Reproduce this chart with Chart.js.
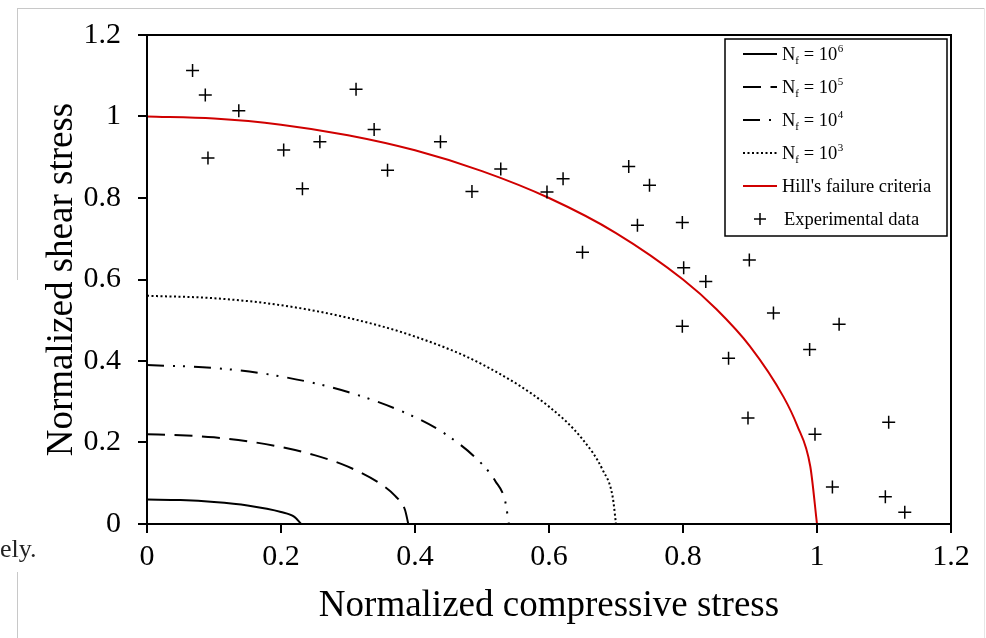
<!DOCTYPE html>
<html>
<head>
<meta charset="utf-8">
<script src="https://cdn.jsdelivr.net/npm/chart.js@4.4.0/dist/chart.umd.min.js"></script>
<style>
  html, body { margin: 0; padding: 0; background: #fff; }
  #wrap { position: relative; width: 986px; height: 638px; overflow: hidden; }
  canvas { position: absolute; left: 0; top: 0; }
  .edge { position: absolute; background: #c8c8c8; }
  #ely { position: absolute; left: 0; top: 536px; font: 26px "Liberation Serif", serif; color: #222; line-height: 26px; }
</style>
</head>
<body>
<div id="wrap">
  <canvas id="chart" width="986" height="638"></canvas>
  <div class="edge" style="left:17px;top:8px;width:968px;height:1px"></div>
  <div class="edge" style="left:17px;top:8px;width:1px;height:272px"></div>
  <div class="edge" style="left:17px;top:572px;width:1px;height:66px"></div>
  <div class="edge" style="left:984px;top:8px;width:1px;height:630px;background:#e6e6e6"></div>
  <div id="ely">ely.</div>
</div>
<script>
// curves
var nf6X = [0, 0.05, 0.1, 0.15, 0.2, 0.22, 0.23];
var nf6Y = [0.06, 0.0586, 0.054, 0.0455, 0.0296, 0.0175, 0];

var nf5X = [0, 0.05, 0.1, 0.15, 0.2, 0.25, 0.3, 0.35, 0.37, 0.385, 0.39];
var nf5Y = [0.22, 0.218, 0.2126, 0.203, 0.189, 0.169, 0.1406, 0.097, 0.0695, 0.035, 0];

var nf4X = [0, 0.1, 0.2, 0.3, 0.4, 0.45, 0.5, 0.52, 0.535, 0.54];
var nf4Y = [0.39, 0.383, 0.362, 0.324, 0.262, 0.2156, 0.147, 0.105, 0.053, 0];

var nf3X = [0, 0.1, 0.2, 0.3, 0.4, 0.5, 0.6, 0.65, 0.68, 0.695, 0.7];
var nf3Y = [0.56, 0.554, 0.537, 0.506, 0.46, 0.392, 0.288, 0.208, 0.133, 0.067, 0];

var hillX = [0, 0.1, 0.2, 0.3, 0.4, 0.5, 0.6, 0.7, 0.8, 0.85, 0.9, 0.95, 0.97, 0.99, 1.0];
var hillY = [1, 0.995, 0.98, 0.954, 0.917, 0.866, 0.8, 0.714, 0.6, 0.527, 0.436, 0.312, 0.243, 0.141, 0];

// experimental points
var expX = [0.068, 0.087, 0.137, 0.091, 0.204, 0.232, 0.258, 0.312, 0.339, 0.359, 0.438, 0.485,
            0.528, 0.597, 0.621, 0.650, 0.719, 0.732, 0.750, 0.799, 0.801, 0.834, 0.799, 0.899,
            0.935, 0.868, 1.033, 0.989, 0.897, 0.997, 1.023, 1.107, 1.102, 1.131];
var expY = [1.113, 1.053, 1.014, 0.898, 0.918, 0.823, 0.938, 1.067, 0.968, 0.868, 0.938, 0.816,
            0.871, 0.815, 0.847, 0.667, 0.877, 0.733, 0.831, 0.740, 0.629, 0.595, 0.485, 0.648,
            0.518, 0.407, 0.490, 0.428, 0.260, 0.220, 0.091, 0.250, 0.067, 0.029];

var axisTicks = [0, 0.2, 0.4, 0.6, 0.8, 1, 1.2];
var axisTickLabels = ['0', '0.2', '0.4', '0.6', '0.8', '1', '1.2'];

function pts(xs, ys) {
	return xs.map(function (x, i) { return { x: x, y: ys[i] }; });
}

function tickLabel(v, i) {
	return axisTickLabels[i];
}

var serif = '"Liberation Serif", "Times New Roman", serif';

function curve(xs, ys, color, dash) {
	return {
		data: pts(xs, ys),
		showLine: true,
		borderColor: color,
		borderWidth: 2,
		borderDash: dash,
		pointRadius: 0,
		cubicInterpolationMode: 'monotone',
		fill: false
	};
}

var dashNf5 = [18, 9.5];
var dashNf4 = [17, 9, 2, 8, 2, 9];
var dashNf3 = [2, 2.5];

var legendRows = [
	{ exp: '6', dash: [], color: '#000' },
	{ exp: '5', dash: dashNf5, color: '#000' },
	{ exp: '4', dash: dashNf4, color: '#000' },
	{ exp: '3', dash: dashNf3, color: '#000' },
	{ text: "Hill's failure criteria", dash: [], color: '#d00000' },
	{ text: 'Experimental data', marker: true }
];

// frame round the plot and the boxed legend
var framePlugin = {
	id: 'frame',
	afterDraw: function (chart) {
		var ctx = chart.ctx, a = chart.chartArea;
		ctx.save();
		ctx.strokeStyle = '#000';
		ctx.lineWidth = 2;
		ctx.strokeRect(a.left, a.top, a.right - a.left, a.bottom - a.top);

		var bx = a.right - 226, by = a.top + 4, bw = 222, bh = 197;
		ctx.fillStyle = '#fff';
		ctx.fillRect(bx, by, bw, bh);
		ctx.lineWidth = 1.5;
		ctx.strokeRect(bx, by, bw, bh);

		var rowH = 33;
		legendRows.forEach(function (r, i) {
			var cy = by + 15 + i * rowH;
			var lx0 = bx + 18, lx1 = bx + 52, tx = bx + 57;
			ctx.save();
			if (r.marker) {
				ctx.strokeStyle = '#000';
				ctx.lineWidth = 1.5;
				ctx.beginPath();
				ctx.moveTo(lx0 + 11, cy); ctx.lineTo(lx0 + 23, cy);
				ctx.moveTo(lx0 + 17, cy - 6); ctx.lineTo(lx0 + 17, cy + 6);
				ctx.stroke();
			} else {
				ctx.strokeStyle = r.color;
				ctx.lineWidth = 2;
				ctx.setLineDash(r.dash);
				ctx.beginPath();
				ctx.moveTo(lx0, cy); ctx.lineTo(lx1, cy);
				ctx.stroke();
			}
			ctx.restore();

			ctx.fillStyle = '#000';
			ctx.textBaseline = 'alphabetic';
			var base = cy + 6;
			if (r.exp) {
				var x = tx;
				ctx.font = '18.5px ' + serif;
				ctx.fillText('N', x, base); x += ctx.measureText('N').width;
				ctx.font = '11px ' + serif;
				ctx.fillText('f', x, base + 4); x += ctx.measureText('f').width;
				ctx.font = '18.5px ' + serif;
				ctx.fillText(' = 10', x, base); x += ctx.measureText(' = 10').width;
				ctx.font = '11px ' + serif;
				ctx.fillText(r.exp, x + 0.5, base - 8);
			} else {
				ctx.font = '18.5px ' + serif;
				ctx.fillText(r.text, tx + (r.marker ? 2 : 0), base);
			}
		});
		ctx.restore();
	}
};

var ctx = document.getElementById('chart').getContext('2d');
var myChart = new Chart(ctx, {
	type: 'scatter',
	data: {
		datasets: [
			{
				data: pts(expX, expY),
				pointStyle: 'cross',
				pointRadius: 6.5,
				pointBorderWidth: 1.5,
				pointBorderColor: '#000',
				showLine: false
			},
			curve(hillX, hillY, '#d00000', []),
			curve(nf3X, nf3Y, '#000', dashNf3),
			curve(nf4X, nf4Y, '#000', dashNf4),
			curve(nf5X, nf5Y, '#000', dashNf5),
			curve(nf6X, nf6Y, '#000', [])
		]
	},
	options: {
		responsive: false,
		animation: false,
		layout: { padding: { left: 0, right: 35, top: 32, bottom: 0 } },
		plugins: {
			legend: { display: false },
			tooltip: { enabled: false }
		},
		scales: {
			x: {
				type: 'linear',
				min: 0,
				max: 1.2,
				afterBuildTicks: function (s) { s.ticks = axisTicks.map(function (v) { return { value: v }; }); },
				ticks: { color: '#000', font: { family: serif, size: 30 }, padding: 6, maxRotation: 0, callback: tickLabel },
				grid: { drawOnChartArea: false, color: '#000', lineWidth: 2, tickLength: 9 },
				border: { color: '#000', width: 2 },
				title: {
					display: true,
					text: 'Normalized compressive stress',
					color: '#000',
					font: { family: serif, size: 37 },
					padding: { top: 0, bottom: 10 }
				},
				afterFit: function (s) { s.height = 114; }
			},
			y: {
				type: 'linear',
				min: 0,
				max: 1.2,
				afterBuildTicks: function (s) { s.ticks = axisTicks.map(function (v) { return { value: v }; }); },
				ticks: { color: '#000', font: { family: serif, size: 30 }, padding: 17, callback: tickLabel },
				grid: { drawOnChartArea: false, color: '#000', lineWidth: 2, tickLength: 9 },
				border: { color: '#000', width: 2 },
				title: {
					display: true,
					text: 'Normalized shear stress',
					color: '#000',
					font: { family: serif, size: 37 },
					padding: { top: 40, bottom: 0 }
				},
				afterFit: function (s) { s.width = 147; }
			}
		}
	},
	plugins: [framePlugin]
});
</script>
</body>
</html>
